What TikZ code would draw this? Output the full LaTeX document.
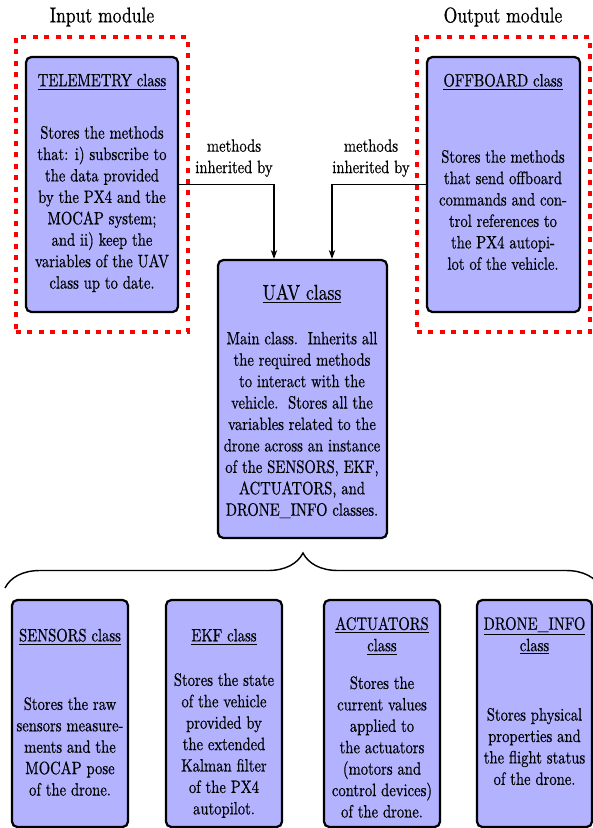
\documentclass[tikz,border=0pt]{standalone}
\usepackage{fontspec}
\setmainfont{lmroman10}[Extension=.otf, UprightFont=*-regular, BoldFont=*-bold,
  ItalicFont=*-italic, FakeStretch=0.82, FakeBold=0.5]
\usetikzlibrary{arrows.meta,decorations.pathreplacing,fit,calc}

\begin{document}
\begin{tikzpicture}[x=0.56pt,y=-0.56pt,
  classbox/.style={draw=black, line width=1.25pt, fill=blue!30, rounded corners=3pt, inner sep=0pt},
  modulebox/.style={draw=red, line width=1.8pt, dash pattern=on 2.8pt off 3.6pt, inner sep=0pt},
  heading/.style={font=\large, inner sep=0pt},
  titletext/.style={align=center, inner sep=0pt},
  bodytext/.style={align=center, inner sep=0pt},
  labeltext/.style={align=center, inner sep=0pt},
  arr/.style={line width=0.8pt, -{Stealth[length=5pt,width=3.6pt]}}]

\useasboundingbox (0,0) rectangle (593,828);

% module frames and headings
\node[modulebox, fit={(16,37) (188,332)}] (inmod) {};
\node[modulebox, fit={(417,37) (590,332)}] (outmod) {};
\node[heading] (inhead) at (102,17) {Input module};
\node[heading] (outhead) at (503,17) {Output module};

% TELEMETRY class
\node[classbox, fit={(26,57) (178,312)}] (tel) {};
\node[titletext] (teltitle) at (102,82) {\underline{TELEMETRY class}};
\node[bodytext] (telbody) at (102,209) {Stores the methods\\that: i) subscribe to\\the data provided\\by the PX4 and the\\MOCAP system;\\and ii) keep the\\variables of the UAV\\class up to date.};

% OFFBOARD class
\node[classbox, fit={(427,57) (580,312)}] (off) {};
\node[titletext] (offtitle) at (503,82) {\underline{OFFBOARD class}};
\node[bodytext] (offbody) at (503,210) {Stores the methods\\that send offboard\\commands and con-\\trol references to\\the PX4 autopi-\\lot of the vehicle.};

% UAV class
\node[classbox, fit={(218,260) (387,538)}] (uav) {};
\node[titletext, font=\large] (uavtitle) at (302,294) {\underline{UAV class}};
\node[bodytext] (uavbody) at (302,425) {Main class.\ \ Inherits all\\the required methods\\to interact with the\\vehicle.\ \ Stores all the\\variables related to the\\drone across an instance\\of the SENSORS, EKF,\\ACTUATORS, and\\DRONE\_INFO classes.};

% inheritance connectors
\coordinate (uavinL) at ($(uav.north)+(-28.5,0)$);
\coordinate (uavinR) at ($(uav.north)+(29.5,0)$);
\draw[arr] (tel.east) -| (uavinL);
\draw[arr] (off.west) -| (uavinR);
\node[labeltext] (lblL) at (234,158) {methods\\inherited by};
\node[labeltext] (lblR) at (371,158) {methods\\inherited by};

% brace grouping the member classes
\coordinate (braceL) at (5,588);
\coordinate (braceR) at (601,588);
\draw[line width=0.8pt, decorate, decoration={brace, amplitude=19.6pt}] (braceL) -- (braceR);

% SENSORS class
\node[classbox, fit={(12,600) (128,827)}] (sen) {};
\node[titletext] (sentitle) at (70,637) {\underline{SENSORS class}};
\node[bodytext] (senbody) at (70,746.5) {Stores the raw\\sensors measure-\\ments and the\\MOCAP pose\\of the drone.};

% EKF class
\node[classbox, fit={(166,600) (282,827)}] (ekf) {};
\node[titletext] (ekftitle) at (224,637) {\underline{EKF class}};
\node[bodytext] (ekfbody) at (224,745.5) {Stores the state\\of the vehicle\\provided by\\the extended\\Kalman filter\\of the PX4\\autopilot.};

% ACTUATORS class
\node[classbox, fit={(324,600) (440,827)}] (act) {};
\node[titletext] (acttitle) at (382,636) {\underline{ACTUATORS}\\\underline{class}};
\node[bodytext] (actbody) at (382,747) {Stores the\\current values\\applied to\\the actuators\\(motors and\\control devices)\\of the drone.};

% DRONE_INFO class
\node[classbox, fit={(477,600) (592,827)}] (dri) {};
\node[titletext] (drititle) at (534.5,636) {\underline{DRONE\_INFO}\\\underline{class}};
\node[bodytext] (dribody) at (534.5,746.5) {Stores physical\\properties and\\the flight status\\of the drone.};

\end{tikzpicture}
\end{document}
